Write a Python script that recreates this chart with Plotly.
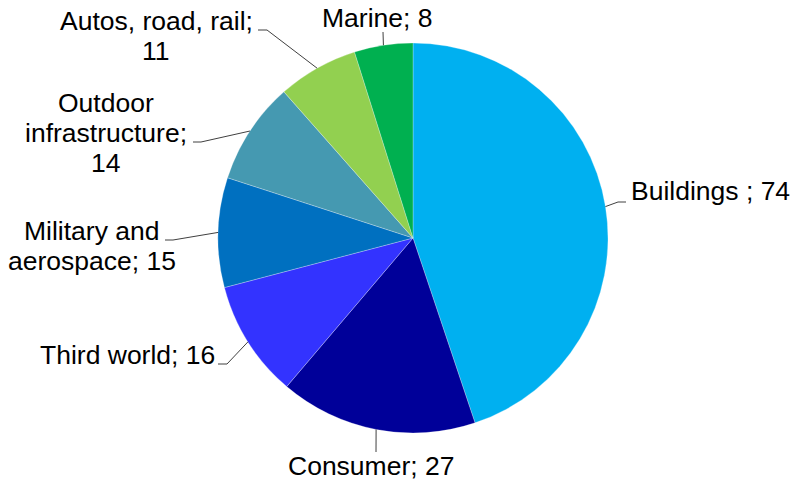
import math
import plotly.graph_objects as go

# Market segments and their values
segments = ["Buildings", "Consumer", "Third world", "Military and aerospace",
            "Outdoor infrastructure", "Autos, road, rail", "Marine"]
values = [74, 27, 16, 15, 14, 11, 8]
label_lines = [
    ["Buildings ; 74"],
    ["Consumer; 27"],
    ["Third world; 16"],
    ["Military and", "aerospace; 15"],
    ["Outdoor", "infrastructure;", "14"],
    ["Autos, road, rail;", "11"],
    ["Marine; 8"],
]
colors = ["#00B0F0", "#000099", "#3333FF", "#0070C0", "#4599B1", "#92D050", "#00B050"]

W, H = 794, 484
CX, CY, R = 413, 238, 195
FONT = dict(family="Liberation Sans, Arial, sans-serif", size=26.5, color="#000000")
LINE_GAP = 30

# Label layout: text centre (x, y of first line), anchor, elbow of leader line
label_layout = [
    dict(x=710, y=191, elbow=(618, 202), tip=(626, 202)),
    dict(x=371, y=466, elbow=None, tip=(376, 452)),
    dict(x=127, y=355, elbow=(227, 364), tip=(218, 364)),
    dict(x=92, y=231, elbow=(173, 240), tip=(165, 240)),
    dict(x=106, y=103, elbow=(201, 142), tip=(193, 142)),
    dict(x=156, y=21, elbow=(267, 30), tip=(258, 30)),
    dict(x=377, y=18, elbow=None, tip=(383, 32)),
]


def px(x):
    return x / W


def py(y):
    return 1 - y / H


fig = go.Figure(go.Pie(
    labels=segments,
    values=values,
    sort=False,
    direction="clockwise",
    rotation=0,
    marker=dict(colors=colors, line=dict(color="rgba(255,255,255,0.45)", width=0.6)),
    textinfo="none",
    hoverinfo="label+value",
    domain=dict(x=[px(CX - R), px(CX + R)], y=[py(CY + R), py(CY - R)]),
    showlegend=False,
))

annotations = []
shapes = []
total = sum(values)
cum = 0
for v, lines, lay in zip(values, label_lines, label_layout):
    mid = (cum + v / 2) / total * 2 * math.pi
    cum += v
    ex = CX + R * math.sin(mid)
    ey = CY - R * math.cos(mid)
    for i, line in enumerate(lines):
        annotations.append(dict(
            x=px(lay["x"]), y=py(lay["y"] + i * LINE_GAP), xref="paper", yref="paper",
            text=line, showarrow=False, xanchor="center", yanchor="middle", font=FONT,
        ))
    pts = [(ex, ey)]
    if lay["elbow"] is not None:
        pts.append(lay["elbow"])
    pts.append(lay["tip"])
    for (x0, y0), (x1, y1) in zip(pts[:-1], pts[1:]):
        shapes.append(dict(type="line", xref="paper", yref="paper",
                           x0=px(x0), y0=py(y0), x1=px(x1), y1=py(y1),
                           line=dict(color="#404040", width=1)))

fig.update_layout(
    width=W, height=H,
    margin=dict(l=0, r=0, t=0, b=0),
    paper_bgcolor="white", plot_bgcolor="white",
    annotations=annotations, shapes=shapes,
)

fig.write_html("out.html")
